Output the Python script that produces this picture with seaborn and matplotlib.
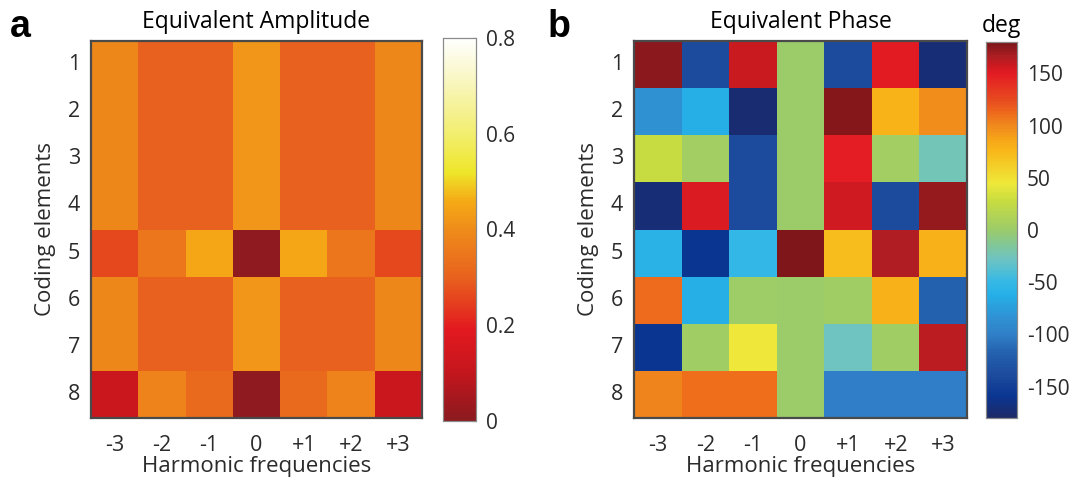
import numpy as np
import pandas as pd
import seaborn as sns
import matplotlib
matplotlib.use("Agg")
import matplotlib.pyplot as plt
from matplotlib.colors import LinearSegmentedColormap
from matplotlib.ticker import FuncFormatter

# Axes categories
harmonics = ["-3", "-2", "-1", "0", "+1", "+2", "+3"]
elements = ["1", "2", "3", "4", "5", "6", "7", "8"]

# Equivalent amplitude per coding element (rows) and harmonic (columns)
amp_row1 = [0.39, 0.30, 0.30, 0.42, 0.30, 0.30, 0.39]
amp_row2 = [0.39, 0.30, 0.30, 0.42, 0.30, 0.30, 0.39]
amp_row3 = [0.39, 0.30, 0.30, 0.42, 0.30, 0.30, 0.39]
amp_row4 = [0.39, 0.30, 0.30, 0.42, 0.30, 0.30, 0.39]
amp_row5 = [0.26, 0.35, 0.45, 0.01, 0.45, 0.35, 0.26]
amp_row6 = [0.39, 0.30, 0.30, 0.42, 0.30, 0.30, 0.39]
amp_row7 = [0.39, 0.30, 0.30, 0.42, 0.30, 0.30, 0.39]
amp_row8 = [0.12, 0.38, 0.32, 0.01, 0.32, 0.38, 0.12]

# Equivalent phase in degrees
ph_row1 = [175, -140, 158, 0, -140, 150, -172]
ph_row2 = [-85, -62, -175, 0, 176, 78, 98]
ph_row3 = [28, 5, -140, 0, 148, 5, -25]
ph_row4 = [-172, 153, -140, 0, 157, -140, 172]
ph_row5 = [-58, -160, -52, 178, 72, 165, 80]
ph_row6 = [112, -62, 2, 0, 3, 80, -118]
ph_row7 = [-160, 3, 45, 0, -28, 3, 163]
ph_row8 = [102, 110, 110, 0, -100, -100, -100]

amp = pd.DataFrame([amp_row1, amp_row2, amp_row3, amp_row4,
                    amp_row5, amp_row6, amp_row7, amp_row8],
                   index=elements, columns=harmonics)
phase = pd.DataFrame([ph_row1, ph_row2, ph_row3, ph_row4,
                      ph_row5, ph_row6, ph_row7, ph_row8],
                     index=elements, columns=harmonics)

# Colormaps
amp_stops = [(0.00, "#8A1A1F"), (0.10, "#C4161D"), (0.19, "#E2191F"),
             (0.30, "#E8621E"), (0.40, "#EF8C1A"), (0.46, "#F5AA15"),
             (0.52, "#EEE62A"), (0.60, "#F2EE6E"), (0.70, "#F8F5B8"),
             (0.80, "#FFFFFF")]
amp_cmap = LinearSegmentedColormap.from_list(
    "amp", [(v / 0.8, c) for v, c in amp_stops], N=256)

ph_stops = [(-180, "#1E2A68"), (-160, "#0A3591"), (-140, "#1C4A9C"),
            (-118, "#2361AE"), (-100, "#3080C8"), (-85, "#2F90D2"),
            (-62, "#26B0E8"), (-50, "#35B8E6"), (-28, "#6EC4C2"),
            (-15, "#80C79A"), (0, "#9BCB6A"), (28, "#C8DC40"),
            (45, "#EFE83A"), (75, "#F8B919"), (85, "#F7A818"),
            (100, "#F08A1C"), (112, "#EE6B1C"), (125, "#E84A20"),
            (150, "#E31B23"), (158, "#CC1A20"), (168, "#A81E22"),
            (180, "#7A1518")]
ph_cmap = LinearSegmentedColormap.from_list(
    "phase", [((v + 180) / 360, c) for v, c in ph_stops], N=256)

sns.set_theme(style="white")
plt.rcParams["font.family"] = ["Open Sans", "DejaVu Sans"]
plt.rcParams["axes.unicode_minus"] = False
text_color = "#2b2b2b"

W, H = 1076, 479
fig = plt.figure(figsize=(W / 100, H / 100), dpi=100)

def px_axes(x0, y0, x1, y1):
    return fig.add_axes([x0 / W, 1 - y1 / H, (x1 - x0) / W, (y1 - y0) / H])

ax_a = px_axes(91, 41, 422, 418)
cax_a = px_axes(443, 38, 476, 421)
ax_b = px_axes(634, 41, 967, 418)
cax_b = px_axes(986, 42, 1017, 418)

sns.heatmap(amp, ax=ax_a, cmap=amp_cmap, vmin=0, vmax=0.8,
            cbar_ax=cax_a, cbar_kws={"ticks": [0, 0.2, 0.4, 0.6, 0.8]})
sns.heatmap(phase, ax=ax_b, cmap=ph_cmap, vmin=-180, vmax=180,
            cbar_ax=cax_b, cbar_kws={"ticks": [-150, -100, -50, 0, 50, 100, 150]})

for ax, title in [(ax_a, "Equivalent Amplitude"), (ax_b, "Equivalent Phase")]:
    ax.set_title(title, fontsize=16.5, color="black", pad=9)
    ax.set_xlabel("Harmonic frequencies", fontsize=16, color=text_color, labelpad=0)
    ax.set_ylabel("Coding elements", fontsize=16, color=text_color, labelpad=8)
    ax.tick_params(axis="both", length=0, labelsize=15.5, colors=text_color)
    ax.tick_params(axis="x", pad=12)
    ax.tick_params(axis="y", pad=8)
    ax.set_yticklabels(elements, rotation=0)
    ax.set_xticklabels(harmonics, rotation=0)
    for s in ax.spines.values():
        s.set_visible(True)
        s.set_color("#4a4a4a")
        s.set_linewidth(1.6)

cax_a.yaxis.set_major_formatter(FuncFormatter(
    lambda v, p: "0" if v == 0 else f"{v:.1f}"))
for cax in (cax_a, cax_b):
    cax.tick_params(axis="y", direction="in", length=3, width=0.8,
                    labelsize=15, colors="#555555", labelcolor=text_color, pad=7)
    for s in cax.spines.values():
        s.set_visible(True)
        s.set_color("#8a8a8a")
        s.set_linewidth(0.8)

cax_b.set_title("deg", fontsize=16.5, color="black", pad=7)

fig.text(10 / W, 1 - 37 / H, "a", fontsize=27, fontweight="bold",
         family="Liberation Sans", color="black")
fig.text(548 / W, 1 - 37 / H, "b", fontsize=27, fontweight="bold",
         family="Liberation Sans", color="black")

fig.savefig("out.png", dpi=100)
